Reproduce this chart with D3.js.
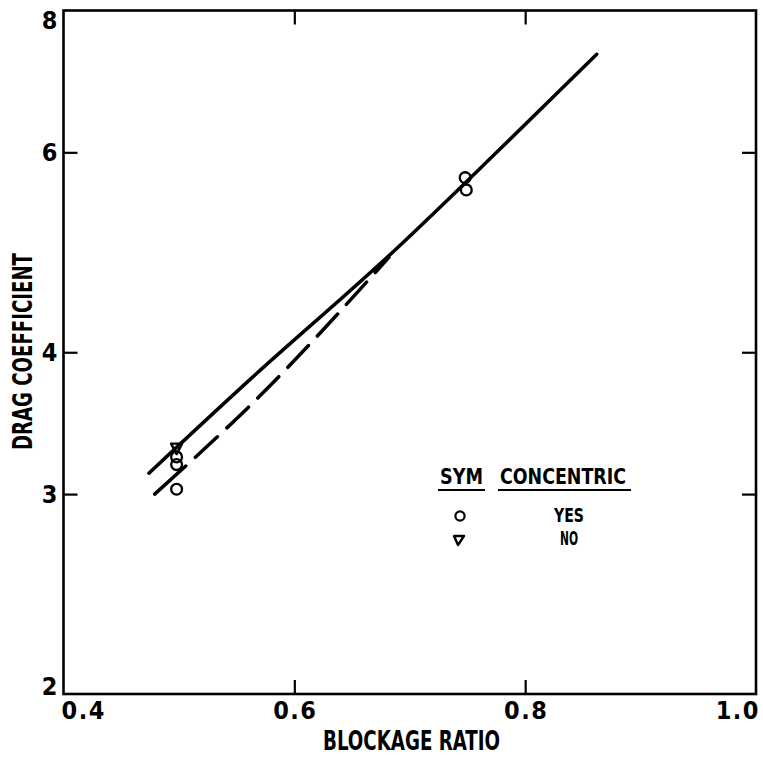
<!DOCTYPE html>
<html>
<head>
<meta charset="utf-8">
<script src="https://cdn.jsdelivr.net/npm/d3@7"></script>
<style>
  html, body { margin: 0; padding: 0; background: #fff; }
  svg { display: block; }
</style>
</head>
<body>
<svg id="chart" width="763" height="757"></svg>
<script>
// Drag coefficient versus blockage ratio (log drag axis)

// Axis ticks
const xTickValues = [0.4, 0.6, 0.8, 1.0];
const xTickLabels = ["0.4", "0.6", "0.8", "1.0"];
const yTickValues = [2, 3, 4, 6, 8];
const yTickLabels = ["2", "3", "4", "6", "8"];

// Measured points: concentric (circles) and non-concentric (triangle)
const yesRatio = [0.498, 0.498, 0.498, 0.748, 0.749];
const yesDrag  = [3.235, 3.185, 3.03, 5.70, 5.56];
const noRatio  = [0.498];
const noDrag   = [3.29];

// Faired curves
const fitSolidRatio  = [0.474, 0.561, 0.688, 0.776, 0.862];
const fitSolidDrag   = [3.13, 3.78, 4.93, 6.01, 7.32];
const fitDashedRatio = [0.479, 0.570, 0.682];
const fitDashedDrag  = [3.00, 3.66, 4.85];

// Legend
const legendHeaders = ["SYM", "CONCENTRIC"];
const legendLabels  = ["YES", "NO"];

const FONT = "'Liberation Sans Narrow', 'DejaVu Sans Condensed', 'Arial Narrow', sans-serif";
const INK = "#000";

const frame = { left: 63.5, right: 756, top: 10.5, bottom: 694 };

const x = d3.scaleLinear().domain([0.4, 1.0]).range([frame.left, frame.right]);
const y = d3.scaleLog().domain([2, 8]).range([frame.bottom, frame.top]);

const svg = d3.select("#chart");

// Plot frame
svg.append("rect")
  .attr("x", frame.left).attr("y", frame.top)
  .attr("width", frame.right - frame.left)
  .attr("height", frame.bottom - frame.top)
  .attr("fill", "none").attr("stroke", INK).attr("stroke-width", 2.6);

// Inward tick marks on all four sides
const innerX = xTickValues.slice(1, -1);
const innerY = yTickValues.slice(1, -1);
function tickMarks(axis, transform) {
  const g = svg.append("g").attr("transform", transform)
    .call(axis.tickSizeInner(-14).tickSizeOuter(0).tickFormat(""));
  g.select(".domain").remove();
  g.selectAll(".tick line").attr("stroke", INK).attr("stroke-width", 2.2);
}
tickMarks(d3.axisBottom(x).tickValues(innerX), `translate(0,${frame.bottom})`);
tickMarks(d3.axisTop(x).tickValues(innerX), `translate(0,${frame.top})`);
tickMarks(d3.axisLeft(y).tickValues(innerY), `translate(${frame.left},0)`);
tickMarks(d3.axisRight(y).tickValues(innerY), `translate(${frame.right},0)`);

// Tick labels
svg.append("g").selectAll("text")
  .data(xTickValues)
  .join("text")
  .attr("x", (d, i) => i === 0 ? x(d) - 2 : i === xTickValues.length - 1 ? x(d) + 4 : x(d) + 1)
  .attr("y", frame.bottom + 25)
  .attr("text-anchor", (d, i) => i === 0 ? "start" : i === xTickValues.length - 1 ? "end" : "middle")
  .attr("font-family", FONT).attr("font-weight", "bold").attr("font-size", 25)
  .attr("letter-spacing", 1.5)
  .attr("fill", INK)
  .text((d, i) => xTickLabels[i]);

svg.append("g").selectAll("text")
  .data(yTickValues)
  .join("text")
  .attr("x", frame.left - 6)
  .attr("y", (d, i) => y(d) + (i === 0 ? 1 : i === yTickValues.length - 1 ? 18 : 8.5))
  .attr("text-anchor", "end")
  .attr("font-family", FONT).attr("font-weight", "bold").attr("font-size", 25)
  .attr("fill", INK)
  .text((d, i) => yTickLabels[i]);

// Axis titles
svg.append("text")
  .attr("x", 323).attr("y", 750)
  .attr("textLength", 177).attr("lengthAdjust", "spacingAndGlyphs")
  .attr("font-family", FONT).attr("font-weight", "bold").attr("font-size", 26)
  .attr("fill", INK)
  .text("BLOCKAGE RATIO");

svg.append("text")
  .attr("transform", "translate(32,450) rotate(-90)")
  .attr("x", 0).attr("y", 0)
  .attr("textLength", 197).attr("lengthAdjust", "spacingAndGlyphs")
  .attr("font-family", FONT).attr("font-weight", "bold").attr("font-size", 26)
  .attr("fill", INK)
  .text("DRAG COEFFICIENT");

// Faired curves
const line = d3.line()
  .x(d => x(d[0])).y(d => y(d[1]))
  .curve(d3.curveMonotoneX);

svg.append("path")
  .datum(d3.zip(fitSolidRatio, fitSolidDrag))
  .attr("d", line)
  .attr("fill", "none").attr("stroke", INK)
  .attr("stroke-width", 3.5).attr("stroke-linecap", "round");

svg.append("path")
  .datum(d3.zip(fitDashedRatio, fitDashedDrag))
  .attr("d", line)
  .attr("fill", "none").attr("stroke", INK)
  .attr("stroke-width", 3.5).attr("stroke-linecap", "round")
  .attr("stroke-dasharray", "42 13 30 13 30 13 30 13 30 13 30 13 30 13 60");

// Markers
const triPath = "M-5.5,-5 L5.5,-5 L0,5.5 Z";

svg.append("g").selectAll("circle")
  .data(d3.zip(yesRatio, yesDrag))
  .join("circle")
  .attr("cx", d => x(d[0])).attr("cy", d => y(d[1]))
  .attr("r", 5.4)
  .attr("fill", "none").attr("stroke", INK).attr("stroke-width", 2.3);

svg.append("g").selectAll("path")
  .data(d3.zip(noRatio, noDrag))
  .join("path")
  .attr("transform", d => `translate(${x(d[0])},${y(d[1])})`)
  .attr("d", triPath)
  .attr("fill", "none").attr("stroke", INK).attr("stroke-width", 2.4)
  .attr("stroke-linejoin", "round");

// Legend
const legend = svg.append("g");
const headerLayout = [{ x: 440, len: 43 }, { x: 500, len: 126 }];
legend.selectAll("text.header")
  .data(legendHeaders)
  .join("text")
  .attr("class", "header")
  .attr("x", (d, i) => headerLayout[i].x).attr("y", 484)
  .attr("textLength", (d, i) => headerLayout[i].len).attr("lengthAdjust", "spacingAndGlyphs")
  .attr("font-family", FONT).attr("font-weight", "bold").attr("font-size", 21)
  .attr("fill", INK)
  .text(d => d);
legend.selectAll("line.under")
  .data(legendHeaders)
  .join("line")
  .attr("class", "under")
  .attr("x1", (d, i) => headerLayout[i].x - 2)
  .attr("x2", (d, i) => headerLayout[i].x + headerLayout[i].len + (i === 1 ? 5 : 2))
  .attr("y1", 490).attr("y2", 490)
  .attr("stroke", INK).attr("stroke-width", 2.2);

const rowY = [522, 545];
const rowLen = [30, 18];
legend.selectAll("text.row")
  .data(legendLabels)
  .join("text")
  .attr("class", "row")
  .attr("x", 569).attr("y", (d, i) => rowY[i])
  .attr("text-anchor", "middle")
  .attr("textLength", (d, i) => rowLen[i]).attr("lengthAdjust", "spacingAndGlyphs")
  .attr("font-family", FONT).attr("font-weight", "bold").attr("font-size", 19)
  .attr("fill", INK)
  .text(d => d);

legend.append("circle")
  .attr("cx", 460).attr("cy", 516).attr("r", 4.6)
  .attr("fill", "none").attr("stroke", INK).attr("stroke-width", 2.2);
legend.append("path")
  .attr("transform", "translate(459,540)")
  .attr("d", "M-5,-4 L5,-4 L-1,5 Z")
  .attr("fill", "none").attr("stroke", INK).attr("stroke-width", 2.4)
  .attr("stroke-linejoin", "round");
</script>
</body>
</html>
